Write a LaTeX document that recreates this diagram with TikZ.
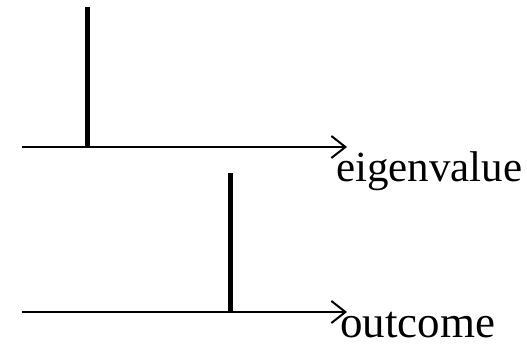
\documentclass[tikz,border=0pt]{standalone}
\usepackage{fontspec}
\setmainfont{Liberation Serif}
\usetikzlibrary{arrows.meta}
\begin{document}
\begin{tikzpicture}[x=1pt,y=-1pt,
  axis/.style={line width=2pt,-{Straight Barb[length=14pt,width=22pt,line width=2pt]}},
  bar/.style={line width=5pt},
  lbl/.style={anchor=base west,inner sep=0pt}]
\useasboundingbox (0,0) rectangle (527,348);
\coordinate (a1s) at (22,147);
\coordinate (a1e) at (347,147);
\coordinate (b1t) at (87.5,7);
\coordinate (b1b) at (87.5,147);
\coordinate (a2s) at (22,312);
\coordinate (a2e) at (347,312);
\coordinate (b2t) at (230.5,173);
\coordinate (b2b) at (230.5,312);
\draw[axis] (a1s) -- (a1e);
\draw[bar] (b1t) -- (b1b);
\draw[axis] (a2s) -- (a2e);
\draw[bar] (b2t) -- (b2b);
\node[lbl,font=\fontsize{43}{43}\selectfont] (l1) at (336,181) {eigenvalue};
\node[lbl,font=\fontsize{45}{45}\selectfont] (l2) at (340,337) {outcome};
\end{tikzpicture}
\end{document}
